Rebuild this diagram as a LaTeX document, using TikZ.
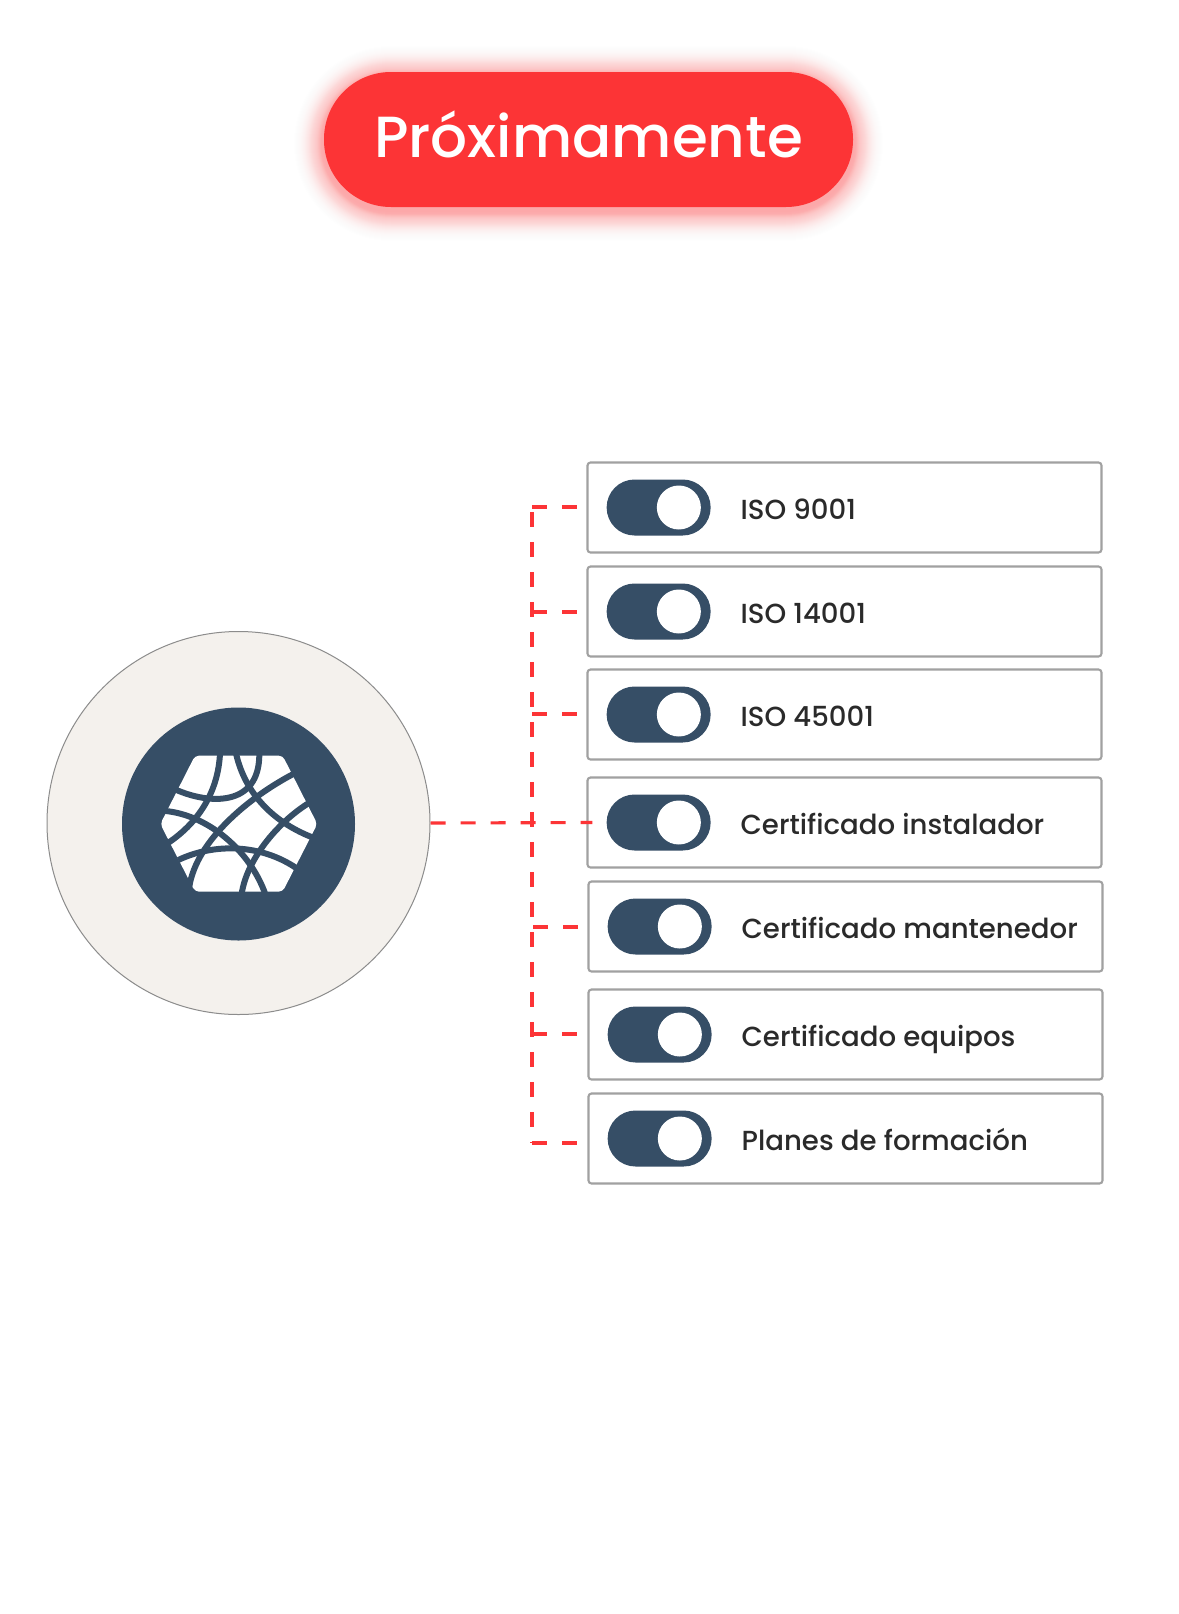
\documentclass[tikz,border=0pt]{standalone}
\usepackage{fontspec}
\setmainfont{Poppins}
\newfontfamily\popmed{Poppins Medium}
\definecolor{navy}{HTML}{364E66}
\definecolor{alert}{HTML}{FC3436}
\definecolor{hubfill}{HTML}{F4F1ED}
\definecolor{ink}{HTML}{2A2A2A}
\tikzset{
  card/.style={draw=black!37,line width=2.1pt,fill=white,rounded corners=3pt,minimum width=514pt,minimum height=90pt,inner sep=0pt},
  togglebar/.style={fill=navy,rounded corners=27.9pt,minimum width=104pt,minimum height=56pt,inner sep=0pt},
  knob/.style={circle,fill=white,minimum size=44pt,inner sep=0pt},
  cardlabel/.style={anchor=west,text=ink,text height=20pt,text depth=6pt,font=\popmed\fontsize{27.6}{34}\selectfont,inner sep=0pt},
  link/.style={alert,line width=3.1pt,dash pattern=on 15pt off 15pt},
  mesh/.style={navy,line width=6pt}
}
\begin{document}
\begin{tikzpicture}[x=1pt,y=-1pt]
\useasboundingbox (0,0) rectangle (1178,1614);
\fill[white] (0,0) rectangle (1178,1614);
% glow
\foreach \g in {1,2,...,30}{
  \pgfmathsetmacro{\op}{0.034*(1-\g/31)^1.5+0.002}
  \fill[alert,opacity=\op,rounded corners=67pt+\g pt] (324-\g,72+4-\g) rectangle (853+\g,207+4+\g);
}
\node[fill=alert,rounded corners=67pt,minimum width=529pt,minimum height=135pt,inner sep=0pt] (pill) at (588.5,139.5) {};
\node[text=white,font=\popmed\fontsize{58}{66}\selectfont,inner sep=0pt] (title) at (588.5,134) {Próximamente};
% hub
\node[circle,draw=black!45,line width=1pt,fill=hubfill,minimum size=383pt,inner sep=0pt] (hub) at (238.5,823) {};
\node[circle,fill=navy,minimum size=233pt,inner sep=0pt] (core) at (238.5,824) {};
\begin{scope}[shift={(100,690)},x=0.3333pt,y=-0.3333pt]
  \clip (100,100) rectangle (740,700);
  \fill[white,rounded corners=4pt] (285,197) -- (548,197) -- (652,402) -- (548,605) -- (285,605) -- (181,402) -- cycle;
  \draw[mesh] (360,190) .. controls (355,300) and (300,400) .. (190,468);
  \draw[mesh] (225,298) .. controls (330,345) and (480,350) .. (478,190);
  \draw[mesh] (408,190) .. controls (435,310) and (520,400) .. (650,447);
  \draw[mesh] (580,252) .. controls (450,320) and (290,450) .. (268,590);
  \draw[mesh] (625,340) .. controls (530,400) and (440,510) .. (425,612);
  \draw[mesh] (185,362) .. controls (320,370) and (450,480) .. (497,615);
  \draw[mesh] (235,510) .. controls (340,460) and (480,460) .. (590,535);
\end{scope}
% cards
\node[card] (c1) at (844.5,507.5) {};
\node[card] (c2) at (844.5,611.5) {};
\node[card] (c3) at (844.5,714.5) {};
\node[card] (c4) at (844.5,822.5) {};
\node[card] (c5) at (845.5,926.5) {};
\node[card] (c6) at (845.5,1034.5) {};
\node[card] (c7) at (845.5,1138.5) {};
\foreach \n/\lab in {1/ISO 9001,2/ISO 14001,3/ISO 45001,4/Certificado instalador,5/Certificado mantenedor,6/Certificado equipos,7/Planes de formación}{
  \node[togglebar,right=20pt] (t\n) at (c\n.west) {};
  \node[knob] (k\n) at ([xshift=-32pt]t\n.east) {};
  \node[cardlabel] (l\n) at ([xshift=154pt,yshift=-4.5pt]c\n.west) {\lab};
}
% connectors
\coordinate (trunktop) at (532,512);
\coordinate (trunkbot) at (532,1143);
\coordinate (b1) at (532,507);
\coordinate (b2) at (532,612);
\coordinate (b3) at (532,714);
\coordinate (b5) at (533,927);
\coordinate (b6) at (532,1034);
\coordinate (b7) at (532,1143);
\draw[link] (trunktop) -- (trunkbot);
\draw[link] (hub.east) -- ([xshift=-14pt]t4.west);
\draw[link] (b1) -- (b1-|c1.west);
\draw[link] (b2) -- (b2-|c2.west);
\draw[link] (b3) -- (b3-|c3.west);
\draw[link] (b5) -- (b5-|c5.west);
\draw[link] (b6) -- (b6-|c6.west);
\draw[link] (b7) -- (b7-|c7.west);
\end{tikzpicture}
\end{document}
